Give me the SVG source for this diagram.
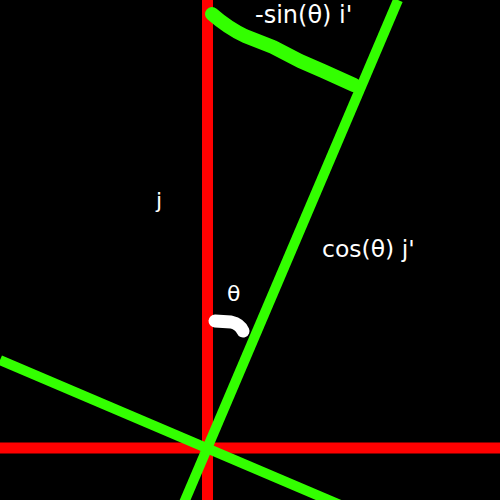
<svg xmlns="http://www.w3.org/2000/svg" width="500" height="500" viewBox="0 0 500 500">
<style>
.axis{stroke:#ff0000;stroke-width:11;fill:none}
.rot{stroke:#33ff00;stroke-width:10;fill:none}
.mark{fill:none;stroke-linecap:round;stroke-linejoin:round}
text{font-family:"DejaVu Sans",sans-serif;font-size:22px;fill:#ffffff}
</style>
<rect x="0" y="0" width="500" height="500" fill="#000000"/>
<g id="connectors">
<line class="axis" x1="207.5" y1="0" x2="207.5" y2="500"/>
<line class="axis" x1="0" y1="448" x2="500" y2="448"/>
<line class="rot" x1="398" y1="0" x2="183" y2="505"/>
<line class="rot" x1="0" y1="360" x2="345" y2="507"/>
<path class="mark" stroke="#33ff00" stroke-width="14" d="M212,14 Q228,28 245,36 L273,47 L300,61 L323,71 L354,85"/>
<path class="mark" stroke="#ffffff" stroke-width="13" d="M215,321 L231,322 Q240,324 243,331"/>
</g>
<g id="label-sin"><text x="255" y="23" style="font-size:24px">-sin(θ) i'</text></g>
<g id="label-j"><text x="156" y="208">j</text></g>
<g id="label-cos"><text x="322" y="257" style="font-size:23.5px">cos(θ) j'</text></g>
<g id="label-theta"><text x="227" y="301">θ</text></g>
</svg>
